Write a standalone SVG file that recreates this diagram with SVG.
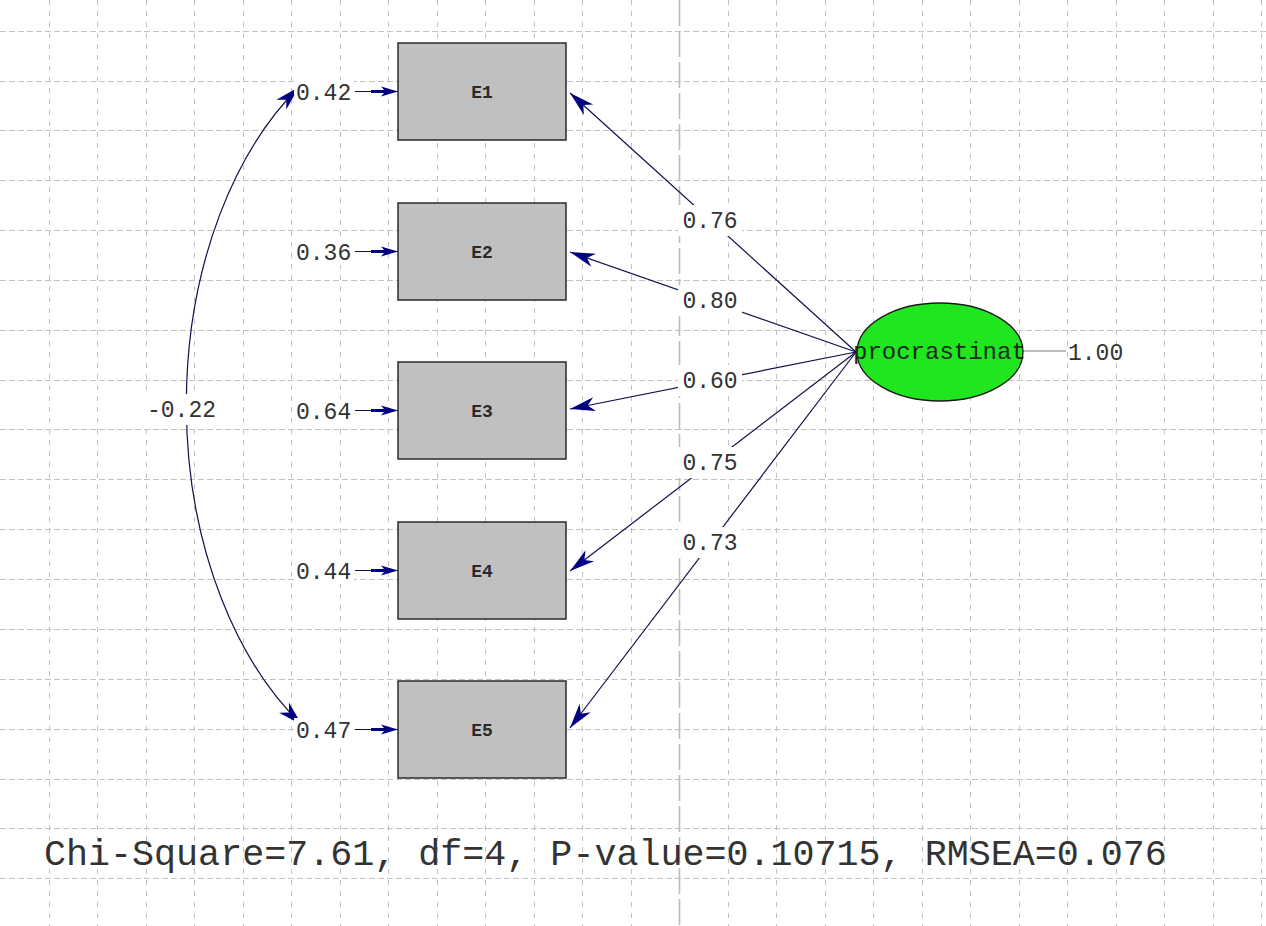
<svg xmlns="http://www.w3.org/2000/svg" width="1266" height="926" viewBox="0 0 1266 926">
  <style>
    .grid-h { stroke: #c2c2c2; stroke-width: 1; stroke-dasharray: 6 3; fill: none; }
    .grid-v { stroke: #c2c2c2; stroke-width: 1; stroke-dasharray: 5 6; fill: none; }
    .axis { stroke: #bcbcbc; stroke-width: 1.6; stroke-dasharray: 26 5; fill: none; }
    .path { stroke: #10104a; stroke-width: 1.2; fill: none; }
    .err { stroke: #10104a; stroke-width: 1.2; fill: none; }
    .box { fill: #c0c0c0; stroke: #2a2a2a; stroke-width: 1.5; }
    .lat { fill: #1fe61f; stroke: #1a1a1a; stroke-width: 1.3; }
    .num { font-family: "Liberation Mono", "Courier New", monospace; font-size: 23px; fill: #333; }
    .name { font-family: "Liberation Mono", "Courier New", monospace; font-size: 18px; font-weight: bold; fill: #2a2a2a; text-anchor: middle; }
    .lbl-bg { fill: #ffffff; }
    .fit { font-family: "Liberation Mono", "Courier New", monospace; font-size: 36.7px; fill: #333; }
  </style>
  <defs>
    <marker id="head" markerUnits="userSpaceOnUse" markerWidth="26" markerHeight="14" refX="25" refY="7" orient="auto-start-reverse" overflow="visible">
      <path d="M25,7 L0,0 L7,7 L0,14 Z" fill="#000080"/>
    </marker>
    <marker id="headSmall" markerUnits="userSpaceOnUse" markerWidth="28" markerHeight="10" refX="27" refY="5" orient="auto" overflow="visible">
      <path d="M27,5 L10,0 L13,3.4 L0,3.4 L0,6.6 L13,6.6 L10,10 Z" fill="#000080"/>
    </marker>
  </defs>

  <rect x="0" y="0" width="1266" height="926" fill="#ffffff"/>

  <!-- background grid -->
  <g id="grid">
    <path class="grid-h" d="M0,31.5H1266 M0,81.5H1266 M0,130.5H1266 M0,180.5H1266 M0,230.5H1266 M0,280.5H1266 M0,330.5H1266 M0,380.5H1266 M0,429.5H1266 M0,479.5H1266 M0,529.5H1266 M0,579.5H1266 M0,629.5H1266 M0,679.5H1266 M0,729.5H1266 M0,779.5H1266 M0,828.5H1266 M0,878.5H1266"/>
    <path class="grid-v" d="M49.5,0V926 M97.5,0V926 M146.5,0V926 M194.5,0V926 M243.5,0V926 M291.5,0V926 M340.5,0V926 M388.5,0V926 M437.5,0V926 M485.5,0V926 M534.5,0V926 M582.5,0V926 M631.5,0V926 M728.5,0V926 M776.5,0V926 M825.5,0V926 M873.5,0V926 M922.5,0V926 M970.5,0V926 M1019.5,0V926 M1067.5,0V926 M1116.5,0V926 M1164.5,0V926 M1213.5,0V926 M1261.5,0V926"/>
    <path class="axis" d="M679.5,0V926"/>
  </g>

  <!-- paths, error terms and covariance -->
  <g id="connectors">
    <line class="path" x1="856" y1="352" x2="570" y2="93" marker-end="url(#head)"/>
    <line class="path" x1="856" y1="352" x2="570" y2="252" marker-end="url(#head)"/>
    <line class="path" x1="856" y1="352" x2="570" y2="409" marker-end="url(#head)"/>
    <line class="path" x1="856" y1="352" x2="570" y2="571" marker-end="url(#head)"/>
    <line class="path" x1="856" y1="352" x2="570" y2="728" marker-end="url(#head)"/>

    <line class="err" x1="355" y1="91.5" x2="398" y2="91.5" marker-end="url(#headSmall)"/>
    <line class="err" x1="355" y1="251.5" x2="398" y2="251.5" marker-end="url(#headSmall)"/>
    <line class="err" x1="355" y1="410.5" x2="398" y2="410.5" marker-end="url(#headSmall)"/>
    <line class="err" x1="355" y1="570.5" x2="398" y2="570.5" marker-end="url(#headSmall)"/>
    <line class="err" x1="355" y1="729.5" x2="398" y2="729.5" marker-end="url(#headSmall)"/>

    <path class="path" d="M299,87 A250,380 0 0 0 302,725" marker-start="url(#head)" marker-end="url(#head)"/>

    <line x1="1023" y1="351" x2="1066" y2="351" stroke="#7a7a7a" stroke-width="1"/>
  </g>

  <!-- coefficient labels -->
  <g id="labels">
    <rect class="lbl-bg" x="678" y="205" width="64" height="31"/>
    <text class="num" x="710" y="228" text-anchor="middle">0.76</text>
    <rect class="lbl-bg" x="678" y="285" width="64" height="31"/>
    <text class="num" x="710" y="308" text-anchor="middle">0.80</text>
    <rect class="lbl-bg" x="678" y="365" width="64" height="31"/>
    <text class="num" x="710" y="388" text-anchor="middle">0.60</text>
    <rect class="lbl-bg" x="678" y="447" width="64" height="31"/>
    <text class="num" x="710" y="470" text-anchor="middle">0.75</text>
    <rect class="lbl-bg" x="678" y="527" width="64" height="31"/>
    <text class="num" x="710" y="550" text-anchor="middle">0.73</text>

    <rect class="lbl-bg" x="294" y="80" width="60" height="25"/>
    <text class="num" x="296" y="99.5">0.42</text>
    <rect class="lbl-bg" x="294" y="240" width="60" height="25"/>
    <text class="num" x="296" y="259.5">0.36</text>
    <rect class="lbl-bg" x="294" y="399" width="60" height="25"/>
    <text class="num" x="296" y="418.5">0.64</text>
    <rect class="lbl-bg" x="294" y="559" width="60" height="25"/>
    <text class="num" x="296" y="578.5">0.44</text>
    <rect class="lbl-bg" x="294" y="718" width="60" height="25"/>
    <text class="num" x="296" y="737.5">0.47</text>

    <rect class="lbl-bg" x="145" y="394" width="75" height="31"/>
    <text class="num" x="147" y="417">-0.22</text>

    <text class="num" x="1068" y="360">1.00</text>
  </g>

  <!-- observed indicators -->
  <g id="E1">
    <rect class="box" x="398" y="43" width="168" height="97"/>
    <text class="name" x="482" y="98">E1</text>
  </g>
  <g id="E2">
    <rect class="box" x="398" y="203" width="168" height="97"/>
    <text class="name" x="482" y="258">E2</text>
  </g>
  <g id="E3">
    <rect class="box" x="398" y="362" width="168" height="97"/>
    <text class="name" x="482" y="417">E3</text>
  </g>
  <g id="E4">
    <rect class="box" x="398" y="522" width="168" height="97"/>
    <text class="name" x="482" y="577">E4</text>
  </g>
  <g id="E5">
    <rect class="box" x="398" y="681" width="168" height="97"/>
    <text class="name" x="482" y="736">E5</text>
  </g>

  <!-- latent factor -->
  <g id="procrastination">
    <ellipse class="lat" cx="940" cy="352" rx="83" ry="49"/>
    <text class="num" x="853" y="359" style="font-size:24px; fill:#1e2a1e">procrastinat</text>
  </g>

  <!-- fit statistics -->
  <text class="fit" x="44" y="865">Chi-Square=7.61, df=4, P-value=0.10715, RMSEA=0.076</text>
</svg>
